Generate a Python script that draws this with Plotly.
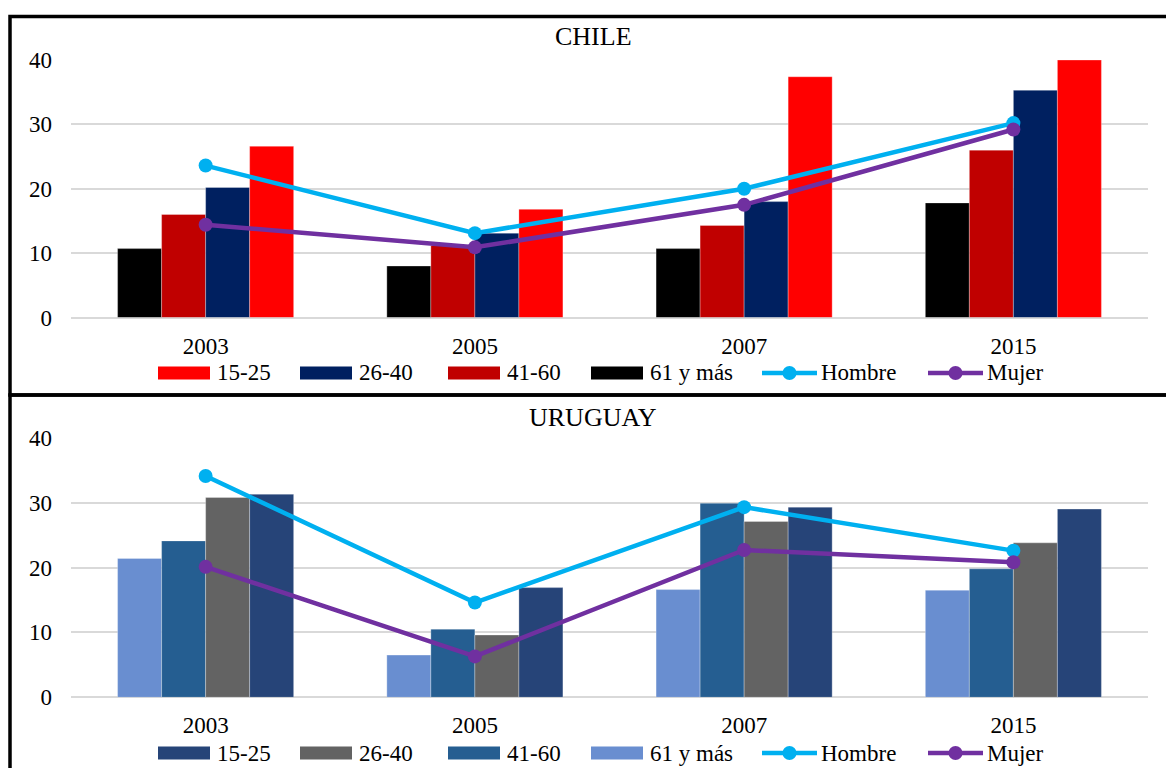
import plotly.graph_objects as go

# ---- data -------------------------------------------------------------
years = ["2003", "2005", "2007", "2015"]

# bar series, listed in the order they sit inside each group (left -> right)
age_groups = ["61 y más", "41-60", "26-40", "15-25"]

chile_61 = [10.7, 8.0, 10.7, 17.8]
chile_41 = [16.0, 11.2, 14.3, 26.0]
chile_26 = [20.2, 13.1, 18.0, 35.3]
chile_15 = [26.6, 16.8, 37.4, 40.0]
chile_hombre = [23.6, 13.1, 20.0, 30.2]
chile_mujer = [14.4, 10.9, 17.5, 29.2]

uru_61 = [21.4, 6.5, 16.6, 16.5]
uru_41 = [24.1, 10.5, 29.9, 19.8]
uru_26 = [30.8, 9.6, 27.1, 23.8]
uru_15 = [31.3, 16.9, 29.3, 29.0]
uru_hombre = [34.1, 14.6, 29.3, 22.6]
uru_mujer = [20.1, 6.3, 22.7, 20.8]

y_ticks = [0, 10, 20, 30, 40]

# ---- styling ----------------------------------------------------------
W, H = 1166, 768
FONT = "Liberation Serif"
chile_colors = {"61 y más": "#000000", "41-60": "#C00000",
                "26-40": "#002060", "15-25": "#FF0000"}
uru_colors = {"61 y más": "#698ED0", "41-60": "#255E91",
              "26-40": "#636363", "15-25": "#264478"}
HOMBRE_C = "#00B0F0"
MUJER_C = "#7030A0"


def px_x(v):
    return v / W


def px_y(v):
    return 1 - v / H


fig = go.Figure()

panels = [
    dict(name="CHILE", xa="x", ya="y", colors=chile_colors,
         bars=dict(zip(age_groups, [chile_61, chile_41, chile_26, chile_15])),
         hombre=chile_hombre, mujer=chile_mujer,
         title_y=36, legend_y=373),
    dict(name="URUGUAY", xa="x2", ya="y2", colors=uru_colors,
         bars=dict(zip(age_groups, [uru_61, uru_41, uru_26, uru_15])),
         hombre=uru_hombre, mujer=uru_mujer,
         title_y=417, legend_y=753),
]

for p in panels:
    for g in age_groups:
        fig.add_trace(go.Bar(
            x=years, y=p["bars"][g], name=g, xaxis=p["xa"], yaxis=p["ya"],
            marker=dict(color=p["colors"][g],
                        line=dict(color="rgba(255,255,255,0.5)", width=0.6)),
            showlegend=False))
    for nm, vals, col in [("Hombre", p["hombre"], HOMBRE_C),
                          ("Mujer", p["mujer"], MUJER_C)]:
        fig.add_trace(go.Scatter(
            x=years, y=vals, name=nm, mode="lines+markers",
            xaxis=p["xa"], yaxis=p["ya"],
            line=dict(color=col, width=4.5),
            marker=dict(color=col, size=14),
            showlegend=False))

axis_common_y = dict(range=[0, 40], tickvals=y_ticks, showgrid=True,
                     gridcolor="#D9D9D9", gridwidth=1.6, zeroline=True,
                     zerolinecolor="#D9D9D9", zerolinewidth=1.6,
                     showline=False, ticks="", ticklabelstandoff=18,
                     automargin=False,
                     tickfont=dict(family=FONT, size=23, color="#000"))
axis_common_x = dict(type="category", showgrid=False, zeroline=False,
                     showline=False, ticks="", ticklabelstandoff=12,
                     automargin=False,
                     tickfont=dict(family=FONT, size=23, color="#000"))

x_dom = [px_x(71), px_x(1148)]
fig.update_layout(
    xaxis=dict(domain=x_dom, anchor="y", **axis_common_x),
    yaxis=dict(domain=[px_y(317.5), px_y(60)], anchor="x", **axis_common_y),
    xaxis2=dict(domain=x_dom, anchor="y2", **axis_common_x),
    yaxis2=dict(domain=[px_y(697.3), px_y(437.7)], anchor="x2", **axis_common_y),
)

shapes = []
annotations = []

# panel frames
shapes.append(dict(type="rect", xref="paper", yref="paper",
                   x0=px_x(10), x1=px_x(1185), y0=px_y(395), y1=px_y(16.5),
                   line=dict(color="#000", width=3.5)))
shapes.append(dict(type="rect", xref="paper", yref="paper",
                   x0=px_x(10), x1=px_x(1185), y0=px_y(790), y1=px_y(395),
                   line=dict(color="#000", width=3.5)))

legend_order = ["15-25", "26-40", "41-60", "61 y más", "Hombre", "Mujer"]
key_x = [158, 300, 448, 591, 762, 928]
SW = 52

for p in panels:
    annotations.append(dict(text=p["name"], xref="paper", yref="paper",
                            x=px_x(593), y=px_y(p["title_y"]),
                            xanchor="center", yanchor="middle", showarrow=False,
                            font=dict(family=FONT, size=26, color="#000")))
    ly = p["legend_y"]
    for label, kx in zip(legend_order, key_x):
        if label in p["colors"]:
            shapes.append(dict(type="rect", xref="paper", yref="paper",
                               x0=px_x(kx), x1=px_x(kx + SW),
                               y0=px_y(ly + 6.5), y1=px_y(ly - 6.5),
                               fillcolor=p["colors"][label], line=dict(width=0)))
            tx = kx + SW + 5
        else:
            col = HOMBRE_C if label == "Hombre" else MUJER_C
            shapes.append(dict(type="line", xref="paper", yref="paper",
                               x0=px_x(kx), x1=px_x(kx + 55),
                               y0=px_y(ly), y1=px_y(ly),
                               line=dict(color=col, width=4.5)))
            shapes.append(dict(type="circle", xref="paper", yref="paper",
                               x0=px_x(kx + 27.5 - 7), x1=px_x(kx + 27.5 + 7),
                               y0=px_y(ly + 7), y1=px_y(ly - 7),
                               fillcolor=col, line=dict(width=0)))
            tx = kx + 57
        annotations.append(dict(text=label, xref="paper", yref="paper",
                                x=px_x(tx), y=px_y(ly), xanchor="left",
                                yanchor="middle", showarrow=False,
                                font=dict(family=FONT, size=23, color="#000")))

fig.update_layout(
    template="none",
    width=W, height=H,
    margin=dict(l=0, r=0, t=0, b=0, pad=0),
    paper_bgcolor="white", plot_bgcolor="white",
    barmode="group", bargap=0.346, bargroupgap=0,
    showlegend=False,
    shapes=shapes, annotations=annotations,
    font=dict(family=FONT, color="#000"),
)

fig.write_html("out.html", config={"displayModeBar": False})
